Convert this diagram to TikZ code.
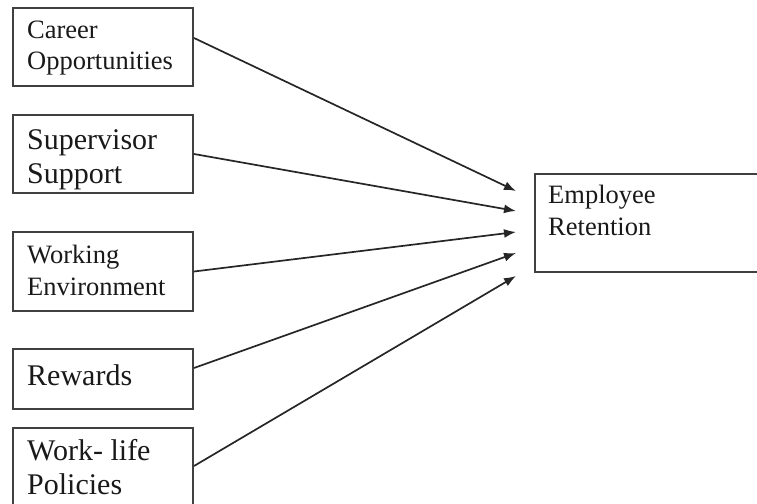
\documentclass[tikz,border=0pt]{standalone}
\usepackage{fontspec}
\setmainfont{Liberation Serif}
\usetikzlibrary{arrows.meta}

\tikzset{
  box/.style={draw=black!75,line width=2pt,minimum width=180pt,inner sep=0pt,anchor=north west},
  txt/.style={anchor=base west,align=left,inner sep=0pt,text=black!90},
  arr/.style={-{Latex[length=12pt,width=9pt]},line width=1.7pt,black!85},
}
\newcommand{\smallfnt}{\fontsize{26.5}{31.5}\selectfont}
\newcommand{\bigfnt}{\fontsize{30}{34}\selectfont}

\begin{document}
\begin{tikzpicture}[x=1pt,y=-1pt]
 \clip (0,0) rectangle (757,503);
 % factor boxes on the left
 \node[box,minimum height=78pt] (career) at (12,7) {};
 \node[box,minimum height=78pt] (super) at (12,114) {};
 \node[box,minimum height=79pt] (work) at (12,231) {};
 \node[box,minimum height=60pt] (reward) at (12,348) {};
 \node[box,minimum height=78pt] (life) at (12,427) {};
 \node[box,minimum width=240pt,minimum height=98pt] (ret) at (534,173) {};
 % box texts (anchored on the last line)
 \node[txt,font=\smallfnt] (careertxt) at (27,70) {Career\\Opportunities};
 \node[txt,font=\bigfnt] (supertxt) at (27,183) {Supervisor\\Support};
 \node[txt,font=\smallfnt] (worktxt) at (27,295) {Working\\Environment};
 \node[txt,font=\bigfnt] (rewardtxt) at (27,385) {Rewards};
 \node[txt,font=\bigfnt] (lifetxt) at (27,494) {Work- life\\Policies};
 \node[txt,font=\smallfnt] (rettxt) at (548,235) {Employee\\Retention};
 % arrow ends
 \coordinate (t1) at (516,191);
 \coordinate (t2) at (516,211);
 \coordinate (t3) at (516,232);
 \coordinate (t4) at (516,253);
 \coordinate (t5) at (516,276);
 \draw[arr] ([yshift=9pt]career.east) -- (t1);
 \draw[arr] (super.east) -- (t2);
 \draw[arr] (work.east) -- (t3);
 \draw[arr] ([yshift=11pt]reward.east) -- (t4);
 \draw[arr] ([yshift=1pt]life.east) -- (t5);
\end{tikzpicture}
\end{document}
